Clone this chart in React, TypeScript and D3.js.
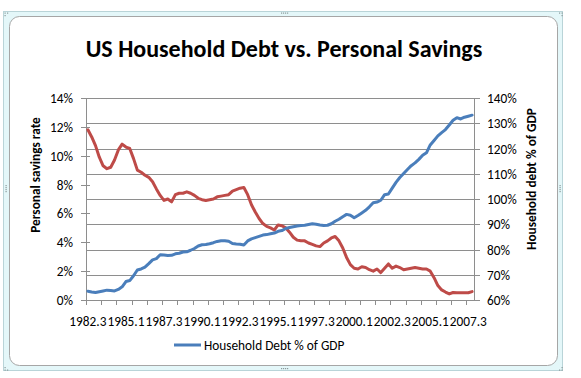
import React from "react";
import * as d3 from "d3";

// Personal savings rate (%), quarterly from 1982.3
const savingsRate = [
  11.8, 11.3, 10.7, 9.9, 9.3, 9.1, 9.2, 9.7, 10.4, 10.8,
  10.6, 10.5, 9.8, 9.0, 8.85, 8.65, 8.5, 8.2, 7.7, 7.25,
  6.9, 7.0, 6.8, 7.3, 7.4, 7.4, 7.5, 7.4, 7.25, 7.05,
  6.95, 6.9, 6.95, 7.0, 7.15, 7.2, 7.25, 7.3, 7.55, 7.65,
  7.75, 7.8, 7.3, 6.6, 6.1, 5.65, 5.3, 5.1, 5.0, 4.85,
  5.2, 5.15, 5.0, 4.7, 4.35, 4.15, 4.1, 4.1, 3.95, 3.85,
  3.75, 3.7, 3.95, 4.1, 4.3, 4.4, 4.1, 3.6, 2.95, 2.45,
  2.2, 2.15, 2.3, 2.25, 2.1, 2.0, 2.15, 1.9, 2.2, 2.5,
  2.2, 2.35, 2.25, 2.1, 2.15, 2.2, 2.25, 2.2, 2.15, 2.15,
  2.0, 1.55, 1.0, 0.7, 0.55, 0.42, 0.52, 0.5, 0.5, 0.5,
  0.5, 0.58,
];

// Household debt (% of GDP), quarterly from 1982.3
const householdDebt = [
  63.5, 63.2, 63.0, 63.3, 63.6, 63.9, 63.8, 63.6, 64.2, 65.2,
  67.3, 67.7, 69.6, 71.9, 72.3, 73.0, 74.4, 75.9, 76.4, 77.9,
  77.8, 77.6, 77.7, 78.3, 78.5, 79.0, 79.1, 79.7, 80.4, 81.4,
  81.9, 82.0, 82.3, 82.7, 83.2, 83.5, 83.5, 83.3, 82.4, 82.2,
  82.1, 81.8, 83.4, 84.2, 84.7, 85.2, 85.7, 85.9, 86.2, 86.5,
  87.2, 87.5, 88.3, 88.7, 89.0, 89.3, 89.5, 89.6, 89.9, 90.2,
  90.0, 89.7, 89.5, 89.6, 90.2, 91.2, 92.0, 93.0, 93.9, 93.6,
  92.6, 93.5, 94.5, 95.5, 96.9, 98.5, 98.8, 99.5, 101.7, 102.0,
  104.3, 106.6, 108.5, 110.1, 111.7, 113.2, 114.3, 115.7, 117.3, 118.3,
  121.4, 123.2, 125.0, 126.3, 127.5, 129.3, 131.2, 132.2, 131.7, 132.4,
  132.8, 133.2,
];

const categories = d3.range(savingsRate.length).map((i) => {
  const q = 2 + i;
  return `${1982 + Math.floor(q / 4)}.${(q % 4) + 1}`;
});

const xLabelStep = 10;
const xTickStep = 4;
const leftTicks = [0, 2, 4, 6, 8, 10, 12, 14];
const rightTicks = [60, 70, 80, 90, 100, 110, 120, 130, 140];

const title = "US Household Debt vs. Personal Savings";
const leftTitle = "Personal savings rate";
const rightTitle = "Household debt % of GDP";
const legendLabel = "Household Debt % of GDP";

const FONT = "Carlito, Lato, 'Liberation Sans', sans-serif";
const BLUE = "#4a7ebb";
const RED = "#be4b48";
const GRID = "#8e8e8e";
const FS = 13.3;

export default function App() {
  const W = 581;
  const H = 378;
  const L = 86, R = 474, T = 98, B = 300;

  const x = d3.scaleBand<number>().domain(d3.range(categories.length)).range([L, R]).padding(0);
  const bw = x.bandwidth();
  const cx = (i: number) => (x(i) as number) + bw / 2;
  const yL = d3.scaleLinear().domain([0, 14]).range([B, T]);
  const yR = d3.scaleLinear().domain([60, 140]).range([B, T]);

  const redLine = d3.line<number>().x((_, i) => cx(i)).y((d) => yL(d))(savingsRate) || "";
  const blueLine = d3.line<number>().x((_, i) => cx(i)).y((d) => yR(d))(householdDebt) || "";

  const xTicks = d3.range(0, categories.length, xTickStep);
  const xLabels = d3.range(0, categories.length, xLabelStep);

  const dots = (x0: number, y0: number, n: number, dx: number, dy: number) =>
    d3.range(n).map((k) => (
      <rect key={`${x0}-${y0}-${k}`} x={x0 + k * dx} y={y0 + k * dy} width={1.2} height={1.2} fill="#8a9a9c" />
    ));

  return (
    <svg width={W} height={H} style={{ position: "absolute", left: 0, top: 0, background: "#fff" }}>
      {/* selection frame */}
      <rect x={3.5} y={11.5} width={559} height={359} fill="#e4f7f9" stroke="#b9d4d8" />
      <rect x={9.5} y={16.5} width={548} height={349} rx={10} fill="#fff" stroke="#a6a6a6" />
      {dots(281, 12.5, 4, 2, 0)}
      {dots(281, 368, 4, 2, 0)}
      {dots(5.5, 185, 4, 0, 2)}
      {dots(559.5, 185, 4, 0, 2)}
      {dots(4.5, 12.5, 2, 2.5, 0)}
      {dots(4.5, 15, 1, 0, 0)}
      {dots(559, 12.5, 2, 2.5, 0)}
      {dots(561.5, 15, 1, 0, 0)}
      {dots(4.5, 367, 1, 0, 0)}
      {dots(4.5, 369.5, 2, 2.5, 0)}
      {dots(559, 369.5, 2, 2.5, 0)}
      {dots(561.5, 367, 1, 0, 0)}

      {/* title */}
      <text x={284} y={57} textAnchor="middle" fontFamily={FONT} fontWeight="bold" fontSize={24} fill="#000">{title}</text>

      {/* gridlines (secondary axis) */}
      {rightTicks.map((t) => (
        <line key={`g${t}`} x1={L} x2={R} y1={Math.round(yR(t)) + 0.5} y2={Math.round(yR(t)) + 0.5} stroke={GRID} strokeWidth={1} />
      ))}

      {/* axes lines */}
      <line x1={L + 0.5} x2={L + 0.5} y1={T} y2={B} stroke={GRID} />
      <line x1={R + 0.5} x2={R + 0.5} y1={T} y2={B} stroke={GRID} />
      <line x1={L} x2={R} y1={B + 0.5} y2={B + 0.5} stroke={GRID} />

      {/* left ticks */}
      {leftTicks.map((t) => {
        const yy = Math.round(yL(t)) + 0.5;
        return (
          <g key={`l${t}`}>
            <line x1={L - 5} x2={L + 4} y1={yy} y2={yy} stroke={GRID} />
            <text x={73} y={yy} dy="0.35em" textAnchor="end" fontFamily={FONT} fontSize={FS} fill="#000">{`${t}%`}</text>
          </g>
        );
      })}

      {/* right ticks */}
      {rightTicks.map((t) => {
        const yy = Math.round(yR(t)) + 0.5;
        return (
          <g key={`r${t}`}>
            <line x1={R} x2={R + 6} y1={yy} y2={yy} stroke={GRID} />
            <text x={487} y={yy} dy="0.35em" textAnchor="start" fontFamily={FONT} fontSize={FS} fill="#000">{`${t}%`}</text>
          </g>
        );
      })}

      {/* x ticks */}
      {xTicks.map((i) => {
        const xx = Math.round(x(i) as number) + 0.5;
        return <line key={`xt${i}`} x1={xx} x2={xx} y1={B} y2={B + 5} stroke={GRID} />;
      })}
      {xLabels.map((i) => (
        <text key={`xl${i}`} x={cx(i)} y={326} textAnchor="middle" fontFamily={FONT} fontSize={FS} fill="#000">{categories[i]}</text>
      ))}

      {/* series */}
      <path d={redLine} fill="none" stroke={RED} strokeWidth={3} strokeLinejoin="round" strokeLinecap="round" />
      <path d={blueLine} fill="none" stroke={BLUE} strokeWidth={3} strokeLinejoin="round" strokeLinecap="round" />

      {/* axis titles */}
      <text transform="translate(40,175) rotate(-90)" textAnchor="middle" fontFamily={FONT} fontWeight="bold" fontSize={FS} fill="#000">{leftTitle}</text>
      <text transform="translate(536,179) rotate(-90)" textAnchor="middle" fontFamily={FONT} fontWeight="bold" fontSize={FS} fill="#000">{rightTitle}</text>

      {/* legend */}
      <line x1={174} x2={201} y1={345} y2={345} stroke={BLUE} strokeWidth={3} />
      <text x={204} y={345} dy="0.35em" fontFamily={FONT} fontSize={FS} fill="#000">{legendLabel}</text>
    </svg>
  );
}
